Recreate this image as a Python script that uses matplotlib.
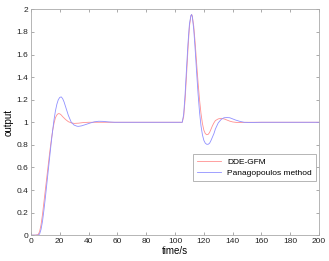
import matplotlib
matplotlib.use("Agg")
from matplotlib import pyplot as plt

# DDE-GFM response
t_red = [0, 3, 5, 6, 7, 8, 9, 10, 11, 12, 13, 14, 15, 16, 17, 18, 19, 20, 21, 22,
         24, 26, 28, 30, 33, 36, 40, 50, 60, 80, 100, 105, 106, 107, 108, 109, 110,
         111, 111.5, 112, 113, 114, 115, 116, 117, 118, 119, 120, 121, 122, 123,
         124, 125, 126, 127, 128, 130, 132, 134, 136, 138, 140, 143, 146, 150,
         170, 200]
y_red = [0, 0, 0.005, 0.03, 0.09, 0.18, 0.29, 0.40, 0.51, 0.62, 0.73, 0.83, 0.92,
         0.99, 1.04, 1.065, 1.077, 1.075, 1.065, 1.05, 1.025, 1.005, 0.995, 0.99,
         0.992, 0.997, 1.0, 1.0, 1.0, 1.0, 1.0, 1.0, 1.05, 1.2, 1.42, 1.65, 1.85,
         1.94, 1.955, 1.94, 1.85, 1.7, 1.52, 1.35, 1.2, 1.08, 0.99, 0.93, 0.90,
         0.89, 0.893, 0.91, 0.94, 0.97, 0.995, 1.015, 1.03, 1.035, 1.03, 1.02,
         1.01, 1.003, 0.998, 0.998, 1.0, 1.0, 1.0]

# Panagopoulos method response
t_blue = [0, 5, 6, 7, 8, 9, 10, 11, 12, 13, 14, 15, 16, 17, 18, 19, 20, 21, 22,
          23, 24, 25, 26, 27, 28, 30, 32, 33, 35, 38, 41, 44, 47, 50, 54, 58, 80,
          100, 105, 106, 107, 108, 109, 110, 111, 111.5, 112, 113, 114, 115, 116,
          117, 118, 119, 120, 121, 122, 123, 124, 125, 126, 127, 128, 130, 132,
          134, 136, 138, 140, 142, 145, 148, 152, 160, 200]
y_blue = [0, 0, 0.01, 0.05, 0.12, 0.22, 0.33, 0.45, 0.57, 0.69, 0.81, 0.92, 1.02,
          1.10, 1.16, 1.20, 1.22, 1.225, 1.21, 1.18, 1.14, 1.10, 1.06, 1.03, 1.0,
          0.975, 0.965, 0.964, 0.968, 0.98, 0.993, 1.004, 1.009, 1.008, 1.003, 1.0,
          1.0, 1.0, 1.0, 1.07, 1.25, 1.48, 1.70, 1.87, 1.945, 1.955, 1.935, 1.82,
          1.64, 1.44, 1.25, 1.09, 0.97, 0.89, 0.84, 0.815, 0.805, 0.805, 0.815,
          0.84, 0.87, 0.90, 0.94, 0.995, 1.025, 1.04, 1.042, 1.04, 1.03, 1.02,
          1.008, 1.0, 0.998, 1.0, 1.0]

x_ticks = [0, 20, 40, 60, 80, 100, 120, 140, 160, 180, 200]
y_ticks = [0, 0.2, 0.4, 0.6, 0.8, 1, 1.2, 1.4, 1.6, 1.8, 2]

plt.rcParams["font.family"] = ["Liberation Sans", "DejaVu Sans"]

fig = plt.figure(figsize=(3.29, 2.61), dpi=100)
ax = fig.add_axes([0.094, 0.099, 0.876, 0.865])

ax.plot(t_red, y_red, color="#ff9090", linewidth=0.6, label="DDE-GFM")
ax.plot(t_blue, y_blue, color="#9090ff", linewidth=0.6, label="Panagopoulos method")

ax.set_xlim(0, 200)
ax.set_ylim(0, 2)
ax.set_xticks(x_ticks)
ax.set_yticks(y_ticks)
ax.set_yticklabels([f"{v:g}" for v in y_ticks])
ax.tick_params(direction="in", length=2, width=0.5, labelsize=6, pad=2,
               top=True, right=True, colors="#888888", labelcolor="#222222")
for s in ax.spines.values():
    s.set_color("#aaaaaa")
    s.set_linewidth(0.6)

ax.set_xlabel("time/s", fontsize=7, labelpad=1)
ax.set_ylabel("output", fontsize=7, labelpad=2)

leg = ax.legend(loc="upper right", bbox_to_anchor=(0.9885, 0.358),
                borderaxespad=0, fontsize=6, handlelength=2.9,
                handletextpad=0.7, borderpad=0.5, labelspacing=0.35,
                fancybox=False, framealpha=1)
leg.get_frame().set_edgecolor("#aaaaaa")
leg.get_frame().set_linewidth(0.6)

fig.savefig("out.png", dpi=100)
